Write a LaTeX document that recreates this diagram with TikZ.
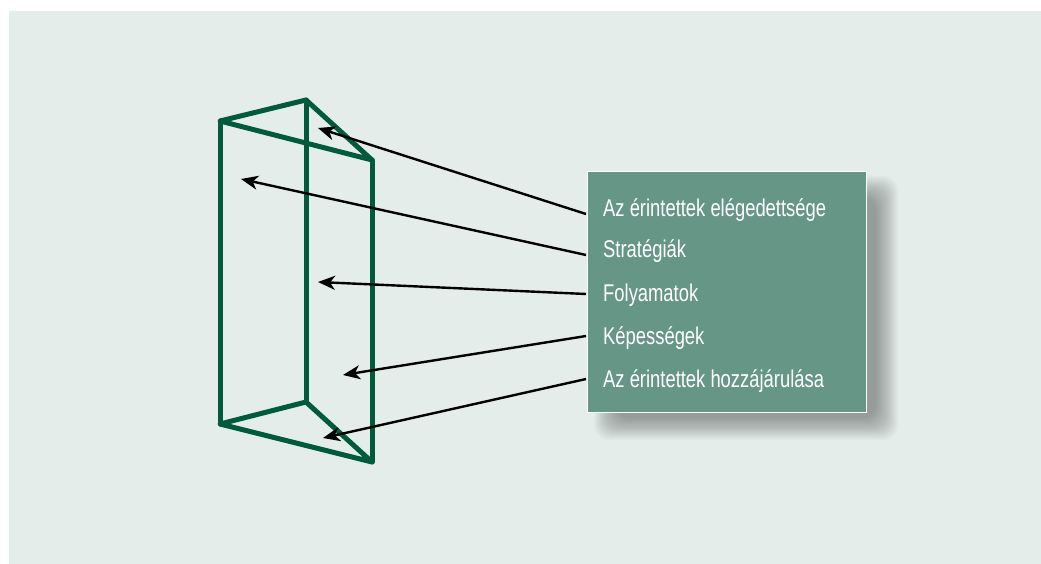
\documentclass[tikz,border=0pt]{standalone}
\usepackage{fontspec}
\setmainfont[FakeStretch=0.76]{Liberation Sans}
\usetikzlibrary{arrows.meta}
\definecolor{panelbg}{HTML}{E4EDE9}
\definecolor{prism}{HTML}{005B3C}
\definecolor{boxfill}{HTML}{669686}
\tikzset{
  x=1pt,y=-1pt,
  prismline/.style={draw=prism,line width=5pt,line join=round,line cap=round},
  pointer/.style={draw=black,line width=2.4pt,-{Stealth[length=17pt,width=14pt,inset=5pt]}},
  label/.style={anchor=base west,text=white,font=\fontsize{24.2}{27}\selectfont,inner sep=0pt}
}
\begin{document}
\begin{tikzpicture}
\useasboundingbox (0,0) rectangle (1041,564);
\fill[white] (0,0) rectangle (1041,564);
\fill[panelbg] (9,11) rectangle (1041,564);
% prism
\coordinate (A) at (220,121);
\coordinate (B) at (306,100);
\coordinate (C) at (372,160);
\coordinate (D) at (220,424);
\coordinate (E) at (306,402);
\coordinate (F) at (372,462);
\draw[prismline] (A) -- (B) -- (C) -- cycle;
\draw[prismline] (D) -- (E) -- (F) -- cycle;
\draw[prismline] (A) -- (D);
\draw[prismline] (B) -- (E);
\draw[prismline] (C) -- (F);
% shadow
\foreach \o in {0,1,...,22}{
  \fill[black,opacity=0.015,rounded corners=14pt] (594+\o,176+\o) rectangle (898-\o,440-\o);
}
% box
\node[draw=white,line width=1pt,fill=boxfill,minimum width=279pt,minimum height=241pt,inner sep=0pt,anchor=north west] (box) at (587,171) {};
\node[label] (t1) at (603,216) {Az érintettek elégedettsége};
\node[label] (t2) at (603,257.5) {Stratégiák};
\node[label] (t3) at (603,301) {Folyamatok};
\node[label] (t4) at (603,344) {Képességek};
\node[label] (t5) at (603,387) {Az érintettek hozzájárulása};
% targets
\coordinate (p1) at (318,128);
\coordinate (p2) at (241,179);
\coordinate (p3) at (318,282);
\coordinate (p4) at (343,375);
\coordinate (p5) at (323,438);
\coordinate (s1) at (586,214);
\coordinate (s2) at (586,255);
\coordinate (s3) at (586,294);
\coordinate (s4) at (586,336);
\coordinate (s5) at (586,379);
\draw[pointer] (s1) -- (p1);
\draw[pointer] (s2) -- (p2);
\draw[pointer] (s3) -- (p3);
\draw[pointer] (s4) -- (p4);
\draw[pointer] (s5) -- (p5);
\end{tikzpicture}
\end{document}
